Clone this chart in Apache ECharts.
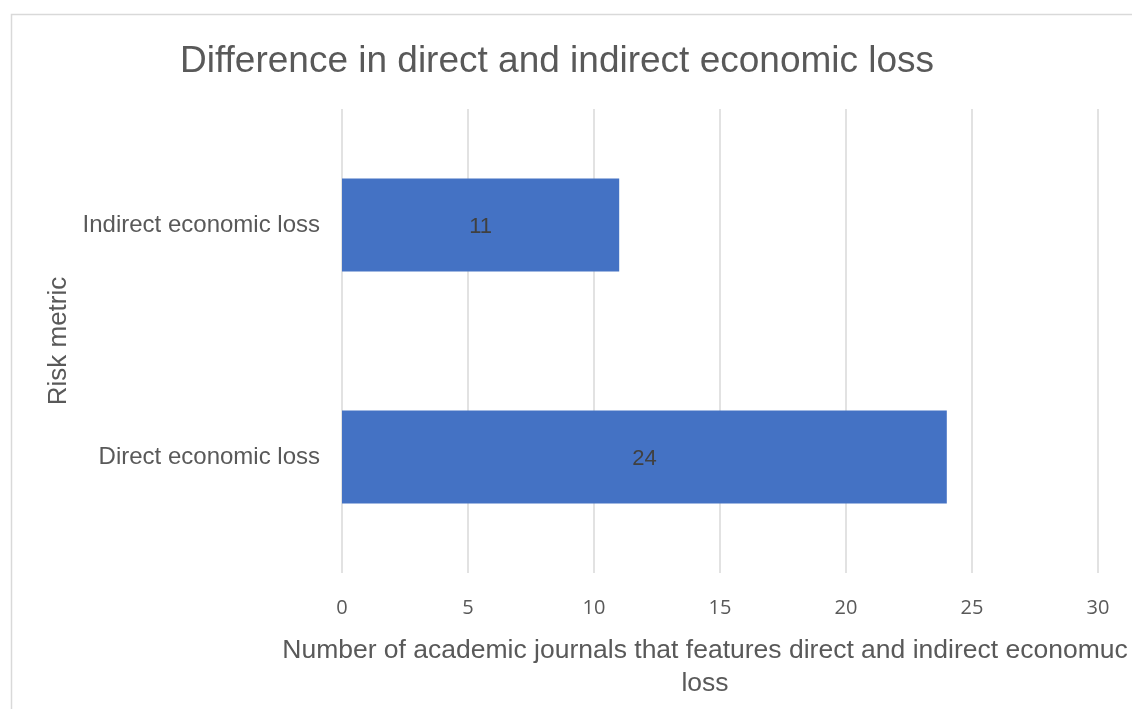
<!DOCTYPE html>
<html>
<head>
<meta charset="utf-8">
<script src="https://cdn.jsdelivr.net/npm/echarts@6/dist/echarts.min.js"></script>
<style>
html,body{margin:0;padding:0;background:#fff;}
#main{width:1132px;height:709px;}
</style>
</head>
<body>
<div id="main"></div>
<script>
const titleText = 'Difference in direct and indirect economic loss';
const categories = ['Direct economic loss', 'Indirect economic loss'];
const journalCounts = [24, 11];
const xTicks = [0, 5, 10, 15, 20, 25, 30];
const xAxisName = 'Number of academic journals that features direct and indirect economuc\nloss';
const yAxisName = 'Risk metric';

const chart = echarts.init(document.getElementById('main'));
const font = '"Liberation Sans", Arial, sans-serif';
chart.setOption({
  backgroundColor: '#ffffff',
  animation: false,
  graphic: [{
    type: 'rect',
    shape: { x: 11.5, y: 14.5, width: 1300, height: 900 },
    style: { fill: 'none', stroke: '#d9d9d9', lineWidth: 1.5 },
    silent: true
  }],
  title: {
    text: titleText,
    left: 175,
    top: 38,
    padding: 5,
    textStyle: { fontFamily: font, fontSize: 37, fontWeight: 'normal', color: '#595959' }
  },
  grid: { left: 342, right: 34, top: 109, bottom: 136, containLabel: false, outerBoundsMode: 'none' },
  xAxis: {
    type: 'value',
    min: xTicks[0],
    max: xTicks[xTicks.length - 1],
    interval: xTicks[1] - xTicks[0],
    name: xAxisName,
    nameLocation: 'middle',
    nameGap: 61,
    nameTextStyle: { fontFamily: font, fontSize: 26.5, color: '#595959', lineHeight: 33, padding: [0, 30, 0, 0] },
    axisLine: { show: false },
    axisTick: { show: false },
    axisLabel: { margin: 25, fontFamily: '"Open Sans", sans-serif', fontSize: 20, color: '#595959' },
    splitLine: { show: true, lineStyle: { color: '#d9d9d9', width: 1.5 } }
  },
  yAxis: {
    type: 'category',
    data: categories,
    name: yAxisName,
    nameLocation: 'middle',
    nameGap: 268,
    nameTextStyle: { fontFamily: font, fontSize: 26, color: '#595959' },
    axisLine: { show: false },
    axisTick: { show: false },
    axisLabel: { margin: 22, fontFamily: font, fontSize: 24, color: '#595959' },
    splitLine: { show: false }
  },
  series: [{
    type: 'bar',
    data: journalCounts,
    barCategoryGap: '60%',
    itemStyle: { color: '#4472C4' },
    label: {
      show: true,
      position: 'inside',
      offset: [0, 2],
      fontFamily: font,
      fontSize: 22,
      color: '#404040'
    }
  }]
});
</script>
</body>
</html>
